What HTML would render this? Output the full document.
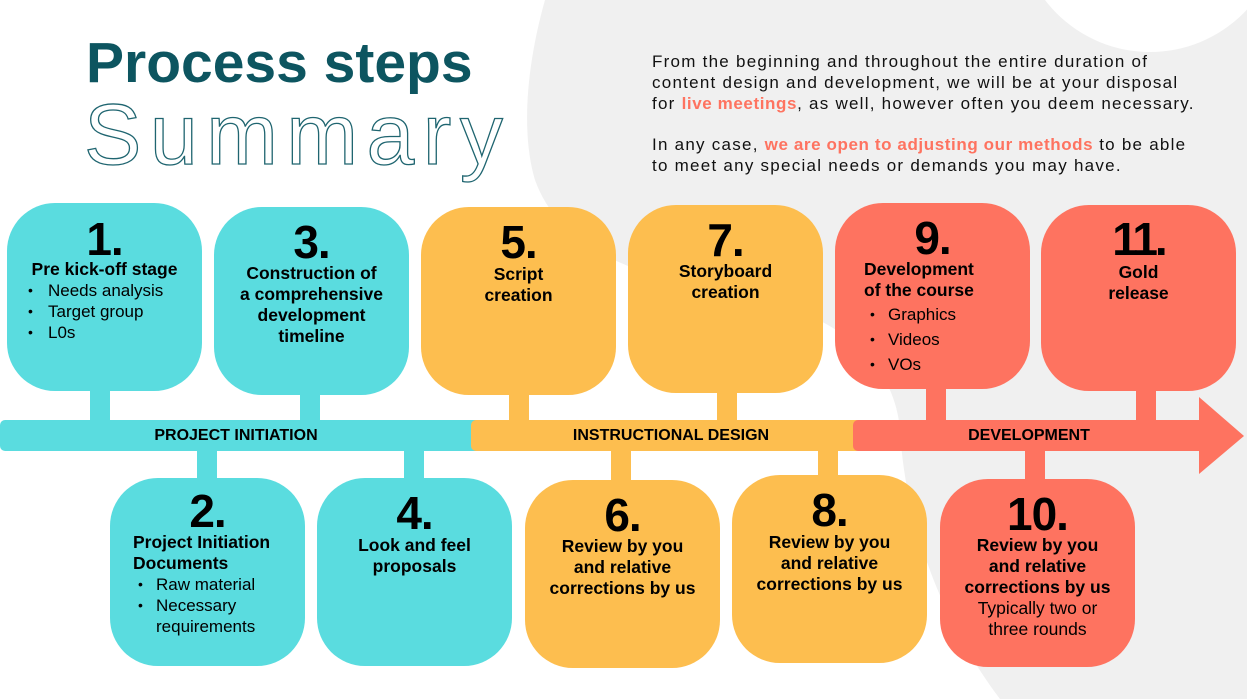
<!DOCTYPE html>
<html><head><meta charset="utf-8"><style>
*{margin:0;padding:0;box-sizing:border-box}
body{width:1247px;height:699px;overflow:hidden;background:#fff;position:relative;font-family:"Liberation Sans",sans-serif;color:#000}
.a{position:absolute}
.box{position:absolute;width:195px;height:188px;border-radius:48px}
.c{background:#5adcdf}.y{background:#fdbe4f}.r{background:#fe7360}
.st{position:absolute;width:20px}
.n{position:absolute;width:195px;text-align:center;font-weight:bold;font-size:46px;line-height:46px;letter-spacing:-1px}
.t{position:absolute;width:195px;text-align:center;font-weight:bold;font-size:17.5px;line-height:21px;white-space:nowrap}
.l{position:absolute;font-size:17px;line-height:21px;white-space:nowrap}
.bl{position:absolute;font-size:14px;line-height:21px}
.bar{position:absolute;top:420px;height:31px;border-radius:5px;font-weight:bold;font-size:16px;line-height:32px;text-align:center}
.p{position:absolute;left:652px;font-size:17px;letter-spacing:1.25px;line-height:20.5px;white-space:nowrap;color:#111}
.h{color:#fe7360;font-weight:bold;letter-spacing:0.6px}
</style></head><body>
<svg class="a" style="left:0;top:0" width="1247" height="699">
<path d="M545,0 C528,60 520,130 535,180 C560,250 640,280 760,300 C850,320 895,370 900,430 C905,520 940,620 1000,699 L1247,699 L1247,0 Z" fill="#f0f0f0"/>
<circle cx="1150" cy="-80" r="132" fill="#fff"/>
</svg>
<div class="a" style="left:86px;top:28px;font-size:57px;font-weight:bold;color:#0d5560;line-height:70px;white-space:nowrap">Process steps</div>
<div class="a" style="left:84px;top:90px;font-size:86px;line-height:90px;color:transparent;-webkit-text-stroke:1.3px #1f6570;letter-spacing:8.5px;white-space:nowrap">Summary</div>

<div class="p" style="top:52px">From the beginning and throughout the entire duration of</div>
<div class="p" style="top:73px">content design and development, we will be at your disposal</div>
<div class="p" style="top:94px">for <span class="h">live meetings</span>, as well, however often you deem necessary.</div>
<div class="p" style="top:135px">In any case, <span class="h">we are open to adjusting our methods</span> to be able</div>
<div class="p" style="top:156px">to meet any special needs or demands you may have.</div>

<!-- stems -->
<div class="st c" style="left:90px;top:380px;height:45px"></div>
<div class="st c" style="left:300px;top:385px;height:40px"></div>
<div class="st y" style="left:509px;top:385px;height:40px"></div>
<div class="st y" style="left:717px;top:385px;height:40px"></div>
<div class="st r" style="left:926px;top:380px;height:45px"></div>
<div class="st r" style="left:1136px;top:380px;height:45px"></div>
<div class="st c" style="left:197px;top:446px;height:40px"></div>
<div class="st c" style="left:404px;top:446px;height:40px"></div>
<div class="st y" style="left:611px;top:446px;height:40px"></div>
<div class="st y" style="left:818px;top:446px;height:40px"></div>
<div class="st r" style="left:1025px;top:446px;height:40px"></div>

<!-- bar -->
<div class="bar c" style="left:0;width:512px;padding-right:40px">PROJECT INITIATION</div>
<div class="bar y" style="left:471px;width:400px;padding-left:0">INSTRUCTIONAL DESIGN</div>
<div class="bar r" style="left:853px;width:360px;padding-right:8px">DEVELOPMENT</div>
<svg class="a" style="left:1199px;top:397px" width="48" height="78"><polygon points="0,0 45,39 0,77" fill="#fe7360"/></svg>

<!-- top boxes -->
<div class="box c" style="left:7px;top:203px"></div>
<div class="n" style="left:7px;top:216px">1.</div>
<div class="t" style="left:7px;top:259px">Pre kick-off stage</div>
<div class="bl" style="left:28px;top:280px">•</div><div class="l" style="left:48px;top:280px">Needs analysis</div>
<div class="bl" style="left:28px;top:301px">•</div><div class="l" style="left:48px;top:301px">Target group</div>
<div class="bl" style="left:28px;top:322px">•</div><div class="l" style="left:48px;top:322px">L0s</div>

<div class="box c" style="left:214px;top:207px"></div>
<div class="n" style="left:214px;top:219px">3.</div>
<div class="t" style="left:214px;top:263px">Construction of<br>a comprehensive<br>development<br>timeline</div>

<div class="box y" style="left:421px;top:207px"></div>
<div class="n" style="left:421px;top:219px">5.</div>
<div class="t" style="left:421px;top:264px">Script<br>creation</div>

<div class="box y" style="left:628px;top:205px"></div>
<div class="n" style="left:628px;top:217px">7.</div>
<div class="t" style="left:628px;top:261px">Storyboard<br>creation</div>

<div class="box r" style="left:835px;top:203px;height:186px"></div>
<div class="n" style="left:835px;top:215px">9.</div>
<div class="t" style="left:864px;top:259px;width:auto;text-align:left">Development<br>of the course</div>
<div class="bl" style="left:870px;top:304px">•</div><div class="l" style="left:888px;top:304px">Graphics</div>
<div class="bl" style="left:870px;top:329px">•</div><div class="l" style="left:888px;top:329px">Videos</div>
<div class="bl" style="left:870px;top:354px">•</div><div class="l" style="left:888px;top:354px">VOs</div>

<div class="box r" style="left:1041px;top:205px;height:186px"></div>
<div class="n" style="left:1041px;top:216px;letter-spacing:-3px">11.</div>
<div class="t" style="left:1041px;top:262px">Gold<br>release</div>

<!-- bottom boxes -->
<div class="box c" style="left:110px;top:478px"></div>
<div class="n" style="left:110px;top:488px">2.</div>
<div class="t" style="left:133px;top:532px;width:auto;text-align:left">Project Initiation<br>Documents</div>
<div class="bl" style="left:138px;top:574px">•</div><div class="l" style="left:156px;top:574px">Raw material</div>
<div class="bl" style="left:138px;top:595px">•</div><div class="l" style="left:156px;top:595px">Necessary</div>
<div class="l" style="left:156px;top:616px">requirements</div>

<div class="box c" style="left:317px;top:478px"></div>
<div class="n" style="left:317px;top:490px">4.</div>
<div class="t" style="left:317px;top:535px">Look and feel<br>proposals</div>

<div class="box y" style="left:525px;top:480px"></div>
<div class="n" style="left:525px;top:492px">6.</div>
<div class="t" style="left:525px;top:536px">Review by you<br>and relative<br>corrections by us</div>

<div class="box y" style="left:732px;top:475px"></div>
<div class="n" style="left:732px;top:487px">8.</div>
<div class="t" style="left:732px;top:532px">Review by you<br>and relative<br>corrections by us</div>

<div class="box r" style="left:940px;top:479px"></div>
<div class="n" style="left:940px;top:491px">10.</div>
<div class="t" style="left:940px;top:535px">Review by you<br>and relative<br>corrections by us</div>
<div class="t" style="left:940px;top:598px;font-weight:normal">Typically two or<br>three rounds</div>
</body></html>
